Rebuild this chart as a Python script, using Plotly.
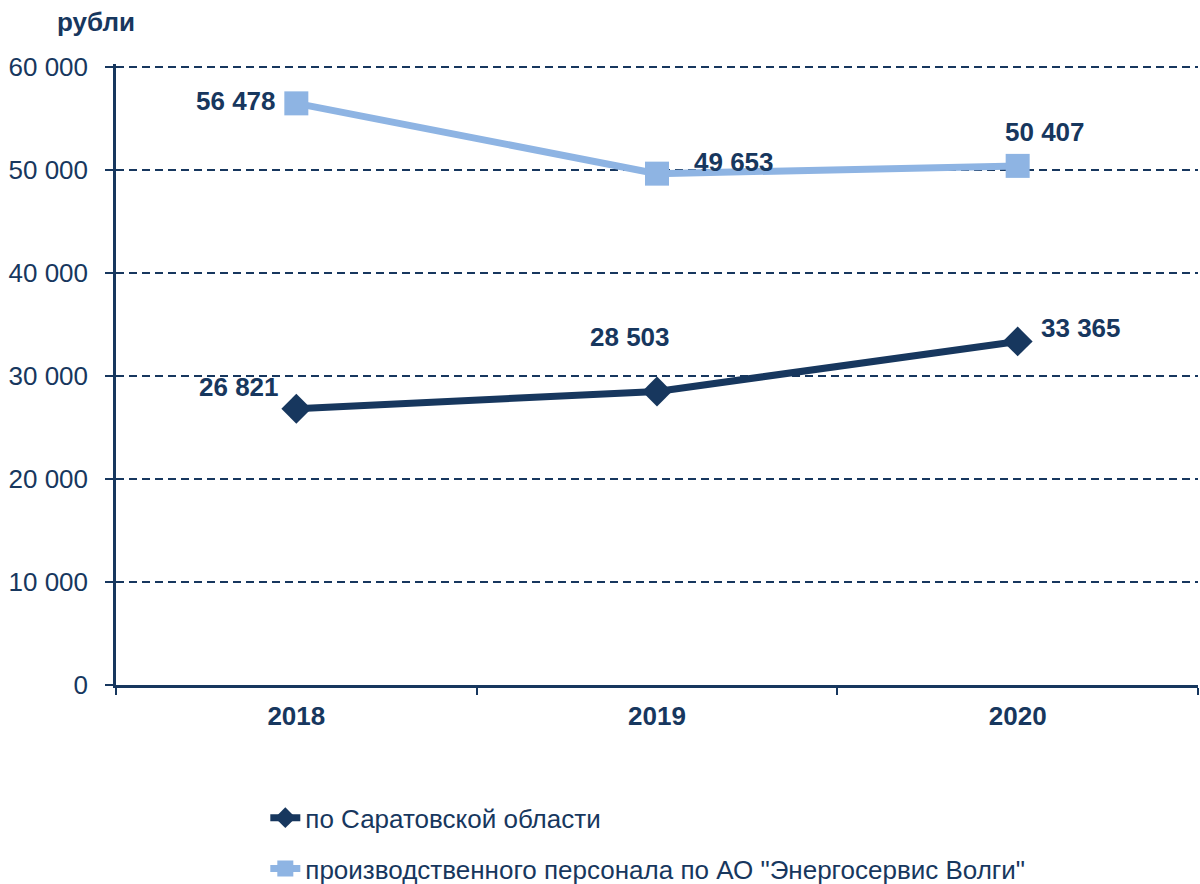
import plotly.graph_objects as go

years = ["2018", "2019", "2020"]
region_values = [26821, 28503, 33365]
company_values = [56478, 49653, 50407]
region_name = "по Саратовской области"
company_name = "производственного персонала по АО \"Энергосервис Волги\""
y_ticks = [0, 10000, 20000, 30000, 40000, 50000, 60000]

DARK = "#17375E"
LIGHT = "#8EB4E3"
FONT = "Liberation Sans, Arial, sans-serif"
FS = 26

fig = go.Figure()
fig.add_trace(go.Scatter(
    x=years, y=region_values, name=region_name, mode="lines+markers",
    line=dict(color=DARK, width=7),
    marker=dict(symbol="diamond", size=23, color=DARK),
    legendgroup="a",
))
fig.add_trace(go.Scatter(
    x=years, y=company_values, name=company_name, mode="lines+markers",
    line=dict(color=LIGHT, width=7),
    marker=dict(symbol="square", size=24, color=LIGHT),
    legendgroup="b",
))

def fmt(v):
    return f"{v:,}".replace(",", " ")

region_offsets = [(-57, -22), (-27, -54), (63, -13)]
company_offsets = [(-60, -2), (77, -12), (27, -34)]
for vals, offs in ((region_values, region_offsets), (company_values, company_offsets)):
    for i, (v, (dx, dy)) in enumerate(zip(vals, offs)):
        fig.add_annotation(
            x=i, y=v, text=f"<b>{fmt(v)}</b>", showarrow=False,
            xshift=dx, yshift=-dy,
            font=dict(family=FONT, size=FS, color=DARK),
        )

fig.add_annotation(
    xref="paper", yref="paper", x=-0.0564, y=1.0676, xanchor="left", yanchor="middle",
    text="<b>рубли</b>", showarrow=False,
    font=dict(family=FONT, size=FS, color=DARK),
)

fig.update_layout(
    width=1200, height=884,
    margin=dict(l=116, r=2, t=64, b=199, autoexpand=False),
    plot_bgcolor="white", paper_bgcolor="white",
    separators=", ",
    font=dict(family=FONT, size=FS, color=DARK),
    showlegend=True,
    legend=dict(
        x=0.138, y=-0.176, xanchor="left", yanchor="top",
        traceorder="grouped", tracegroupgap=14,
        font=dict(family=FONT, size=FS, color=DARK),
        itemwidth=30,
    ),
    xaxis=dict(
        type="category", range=[-0.5, 2.5],
        tickmode="array", tickvals=years, ticktext=[f"<b>{y}</b>" for y in years],
        tickson="boundaries", ticks="outside", ticklen=7, tickwidth=2, tickcolor=DARK,
        ticklabelstandoff=6,
        showline=True, linecolor=DARK, linewidth=2.5,
        showgrid=False, zeroline=False,
        tickfont=dict(family=FONT, size=FS, color=DARK),
    ),
    yaxis=dict(
        range=[0, 60300], tickvals=y_ticks, tickformat=",d",
        ticks="outside", ticklen=8, tickwidth=2, tickcolor=DARK,
        ticklabelstandoff=12,
        showline=True, linecolor=DARK, linewidth=2.5,
        showgrid=True, gridcolor=DARK, gridwidth=1.5, griddash="8px,5px",
        zeroline=False,
        tickfont=dict(family=FONT, size=FS, color=DARK),
    ),
)

fig.write_html(
    "out.html",
    config={"displayModeBar": False},
    post_script="document.body.style.margin='0';document.body.style.overflow='hidden';",
)
